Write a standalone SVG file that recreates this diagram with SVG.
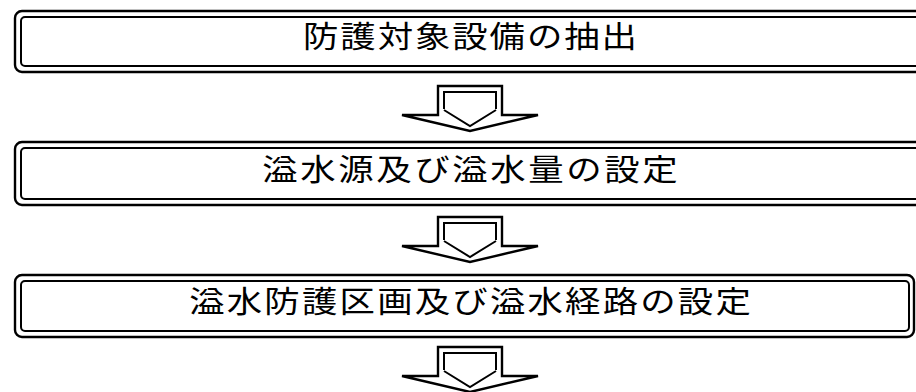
<svg xmlns="http://www.w3.org/2000/svg" width="916" height="392" viewBox="0 0 916 392">
<style>
.o{fill:none;stroke:#000;stroke-width:2.4}
.i{fill:none;stroke:#000;stroke-width:2}
.ao{fill:#fff;stroke:#000;stroke-width:2.4;stroke-linejoin:miter}
.ai{fill:none;stroke:#000;stroke-width:2;stroke-linejoin:miter}
.t{font-family:"Noto Sans CJK JP","Noto Sans CJK SC",sans-serif;font-size:30px;font-weight:400;fill:#000;text-anchor:middle}
</style>
<defs>
<g id="arrow">
<polygon class="ao" points="438,0 502,0 502,29 538,29 470,45 402,29 438,29"/>
<polyline class="ai" points="444,23 444,6 496,6 496,23"/>
<polyline class="ai" points="444,24 470,40 496,24"/>
</g>
</defs>
<g id="node1">
<rect class="o" x="15" y="11" width="920" height="61" rx="7"/>
<rect class="i" x="21" y="17" width="908" height="49" rx="4"/>
<text class="t" transform="translate(470 47) scale(1.18 1)" x="0" y="0" textLength="283" lengthAdjust="spacing">防護対象設備の抽出</text>
</g>
<g id="node2">
<rect class="o" x="15" y="142" width="920" height="63" rx="7"/>
<rect class="i" x="21" y="148" width="908" height="51" rx="4"/>
<text class="t" transform="translate(470 180) scale(1.18 1)" x="0" y="0" textLength="352" lengthAdjust="spacing">溢水源及び溢水量の設定</text>
</g>
<g id="node3">
<rect class="o" x="15" y="275" width="899" height="62" rx="7"/>
<rect class="i" x="21" y="281" width="888" height="50" rx="4"/>
<text class="t" transform="translate(470 312) scale(1.18 1)" x="0" y="0" textLength="476" lengthAdjust="spacing">溢水防護区画及び溢水経路の設定</text>
</g>
<g id="connectors">
<use href="#arrow" transform="translate(0 86)"/>
<use href="#arrow" transform="translate(0 217)"/>
<use href="#arrow" transform="translate(0 347)"/>
</g>
</svg>
